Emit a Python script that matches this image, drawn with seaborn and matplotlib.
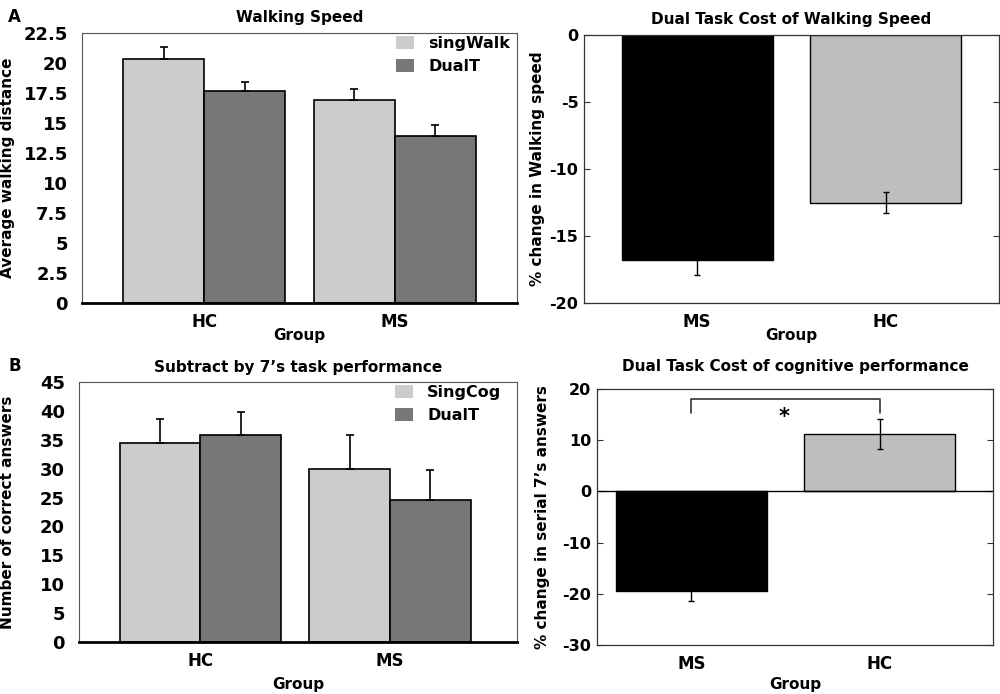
import pandas as pd
import matplotlib
matplotlib.use("Agg")
import matplotlib.pyplot as plt
import seaborn as sns

# walking speed (panel A left)
walk_groups = ["HC", "MS"]
walk_sing = [20.3, 16.9]
walk_sing_err = [1.0, 0.9]
walk_dual = [17.7, 13.9]
walk_dual_err = [0.7, 0.9]

# dual task cost of walking (panel A right)
dtc_groups = ["MS", "HC"]
dtc_walk = [-16.8, -12.5]
dtc_walk_err = [1.1, 0.8]

# subtraction task (panel B left)
cog_sing = [34.4, 30.0]
cog_sing_err = [4.2, 5.8]
cog_dual = [35.8, 24.6]
cog_dual_err = [4.1, 5.2]

# dual task cost of cognition (panel B right)
dtc_cog = [-19.4, 11.2]
dtc_cog_err = [2.0, 2.85]

LIGHT = "#cccccc"
DARK = "#777777"

sns.set_style("white")
plt.rcParams["font.family"] = ["DejaVu Sans"]
plt.rcParams["font.weight"] = "bold"
plt.rcParams["axes.labelweight"] = "bold"
plt.rcParams["axes.titleweight"] = "bold"
for key in ["text.color", "axes.labelcolor", "xtick.color", "ytick.color"]:
    plt.rcParams[key] = "black"


def grouped_panel(ax, sing, sing_err, dual, dual_err, labels, yticks, title, ylabel):
    df = pd.DataFrame({
        "Group": walk_groups * 2,
        "cond": [labels[0]] * 2 + [labels[1]] * 2,
        "value": sing + dual,
    })
    sns.barplot(data=df, x="Group", y="value", hue="cond", order=walk_groups,
                palette=[LIGHT, DARK], width=0.85, edgecolor="black",
                linewidth=1.2, errorbar=None, ax=ax)
    for cont, err in zip(ax.containers, [sing_err, dual_err]):
        xs = [p.get_x() + p.get_width() / 2 for p in cont.patches]
        hs = [p.get_height() for p in cont.patches]
        ax.errorbar(xs, hs, yerr=[[0] * len(err), err], fmt="none",
                    ecolor="black", elinewidth=1.2, capsize=3, capthick=1.2)
    ax.set_ylim(yticks[0], yticks[-1])
    ax.set_yticks(yticks)
    ax.set_yticklabels([f"{v:g}" for v in yticks], fontsize=13)
    ax.tick_params(axis="y", length=0, pad=10)
    ax.tick_params(axis="x", length=0, pad=7, labelsize=12)
    ax.set_title(title, fontsize=11, pad=8)
    ax.set_ylabel(ylabel, fontsize=11)
    ax.set_xlabel("Group", fontsize=11)
    for s in ["top", "right", "left"]:
        ax.spines[s].set_color("#555555")
        ax.spines[s].set_linewidth(0.8)
    ax.spines["bottom"].set_color("black")
    ax.spines["bottom"].set_linewidth(2)
    leg = ax.legend(loc="upper left", bbox_to_anchor=(0.70, 1.025), frameon=False,
                    handlelength=1.1, handleheight=0.85, handletextpad=0.9,
                    labelspacing=0.5, borderaxespad=0.2,
                    prop={"size": 11.5, "weight": "bold"})
    for h in leg.legend_handles:
        h.set_edgecolor("none")


def cost_panel(ax, values, errs, hc_edge, yticks, title, ylabel):
    df = pd.DataFrame({"Group": dtc_groups, "value": values})
    sns.barplot(data=df, x="Group", y="value", hue="Group", order=dtc_groups,
                hue_order=dtc_groups, palette=["black", "#bebebe"], width=0.8,
                edgecolor=["black", hc_edge], linewidth=1.0, errorbar=None,
                legend=False, ax=ax)
    xs, hs = [], []
    for cont in ax.containers:
        for p in cont.patches:
            xs.append(p.get_x() + p.get_width() / 2)
            hs.append(p.get_y() + p.get_height())
    ax.errorbar(xs, hs, yerr=errs, fmt="none", ecolor="black",
                elinewidth=1.0, capsize=2, capthick=1.0)
    ax.set_ylim(yticks[0], yticks[-1])
    ax.set_yticks(yticks)
    ax.set_yticklabels([f"{v:g}" for v in yticks], fontsize=11.5)
    ax.tick_params(axis="y", direction="in", length=4, left=True, right=True,
                   pad=4, color="#333333")
    ax.tick_params(axis="x", pad=7, labelsize=12)
    ax.set_title(title, fontsize=11, pad=8)
    ax.set_ylabel(ylabel, fontsize=11)
    ax.set_xlabel("Group", fontsize=11)
    for s in ax.spines.values():
        s.set_color("#333333")
        s.set_linewidth(0.9)


fig = plt.figure(figsize=(10, 6.94), dpi=100)
ax1 = fig.add_axes([0.082, 0.5634, 0.435, 0.389])
ax2 = fig.add_axes([0.584, 0.5634, 0.415, 0.386])
ax3 = fig.add_axes([0.079, 0.0749, 0.438, 0.3746])
ax4 = fig.add_axes([0.597, 0.0706, 0.396, 0.369])

grouped_panel(ax1, walk_sing, walk_sing_err, walk_dual, walk_dual_err,
              ["singWalk", "DualT"], [0, 2.5, 5, 7.5, 10, 12.5, 15, 17.5, 20, 22.5],
              "Walking Speed", "Average walking distance")
ax1.set_xlim(-0.64, 1.64)
ax1.yaxis.set_label_coords(-0.154, 0.5)
ax1.xaxis.set_label_coords(0.5, -0.093)

grouped_panel(ax3, cog_sing, cog_sing_err, cog_dual, cog_dual_err,
              ["SingCog", "DualT"], [0, 5, 10, 15, 20, 25, 30, 35, 40, 45],
              "Subtract by 7\u2019s task performance", "Number of correct answers")
ax3.set_xlim(-0.64, 1.67)
ax3.set_title(ax3.get_title(), fontsize=11, pad=7)
ax3.yaxis.set_label_coords(-0.146, 0.5)
ax3.xaxis.set_label_coords(0.5, -0.135)

cost_panel(ax2, dtc_walk, dtc_walk_err, "#333333", [-20, -15, -10, -5, 0],
           "Dual Task Cost of Walking Speed", "% change in Walking speed")
ax2.set_xlim(-0.6, 1.6)
ax2.tick_params(axis="x", which="major", length=0)
ax2.set_xticks([0.4, 1.4], minor=True)
ax2.tick_params(axis="x", which="minor", direction="in", length=4, color="#333333")
ax2.yaxis.set_label_coords(-0.094, 0.5)
ax2.xaxis.set_label_coords(0.5, -0.093)

cost_panel(ax4, dtc_cog, dtc_cog_err, "#888888", [-30, -20, -10, 0, 10, 20],
           "Dual Task Cost of cognitive performance", "% change in serial 7\u2019s answers")
ax4.set_xlim(-0.5, 1.6)
ax4.tick_params(axis="x", direction="in", length=4, color="#333333")
ax4.set_title(ax4.get_title(), fontsize=11, pad=13)
ax4.yaxis.set_label_coords(-0.119, 0.5)
ax4.xaxis.set_label_coords(0.5, -0.125)
ax4.axhline(0, color="black", linewidth=1.0)
ax4.plot([0, 0, 1, 1], [15.3, 18.0, 18.0, 15.3], color="#333333", linewidth=1.2)
ax4.text(0.49, 14.5, "*", ha="center", va="center", fontsize=15, fontweight="bold")

fig.text(0.008, 0.975, "A", fontsize=12, fontweight="bold", va="center")
fig.text(0.008, 0.473, "B", fontsize=12, fontweight="bold", va="center")

fig.savefig("out.png", dpi=100)
